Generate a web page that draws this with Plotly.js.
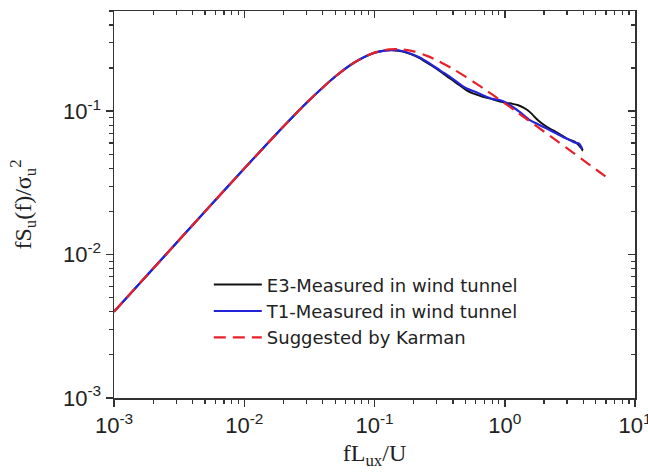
<!DOCTYPE html>
<html>
<head>
<meta charset="utf-8">
<script src="https://cdn.plot.ly/plotly-3.0.1.min.js"></script>
<style>html,body{margin:0;padding:0;background:#fff;}#chart{width:648px;height:474px;}</style>
</head>
<body>
<div id="chart"></div>
<script>
// Series (x = fLux/U, y = fSu(f)/σu²)
var e3X = [0.001, 0.002, 0.005, 0.01, 0.02, 0.03, 0.05, 0.07, 0.1, 0.12, 0.14, 0.165, 0.19, 0.22, 0.27, 0.32, 0.38, 0.45, 0.51, 0.6, 0.68, 0.8, 0.92, 1.04, 1.15, 1.27, 1.38, 1.5, 1.62, 1.75, 1.9, 2.1, 2.5, 3.0, 3.46, 3.7, 3.85, 3.95, 3.9];
var e3Y = [0.0040, 0.0080, 0.0200, 0.0398, 0.0782, 0.114, 0.1746, 0.2185, 0.2555, 0.265, 0.2665, 0.261, 0.250, 0.236, 0.210, 0.1895, 0.169, 0.152, 0.140, 0.131, 0.126, 0.1215, 0.117, 0.1143, 0.1125, 0.110, 0.1065, 0.1016, 0.0955, 0.0885, 0.083, 0.0778, 0.0712, 0.0645, 0.0611, 0.058, 0.0555, 0.054, 0.053];

var t1X = [0.001, 0.002, 0.005, 0.01, 0.02, 0.03, 0.05, 0.07, 0.1, 0.12, 0.14, 0.165, 0.19, 0.22, 0.27, 0.32, 0.38, 0.45, 0.51, 0.6, 0.68, 0.8, 0.92, 1.0, 1.1, 1.3, 1.56, 1.8, 2.1, 2.45, 2.8, 3.1, 3.35, 3.55, 3.7, 3.82, 3.9, 3.85];
var t1Y = [0.0040, 0.0080, 0.0200, 0.0398, 0.0782, 0.114, 0.1746, 0.2185, 0.2555, 0.265, 0.2665, 0.262, 0.252, 0.238, 0.213, 0.192, 0.1735, 0.155, 0.1438, 0.136, 0.1293, 0.122, 0.1193, 0.116, 0.110, 0.099, 0.0866, 0.0812, 0.0757, 0.0705, 0.0662, 0.0635, 0.0611, 0.060, 0.0595, 0.0575, 0.0555, 0.0545];

var karmanX = [0.001, 0.002, 0.005, 0.01, 0.02, 0.03, 0.05, 0.07, 0.1, 0.13, 0.16, 0.2, 0.25, 0.3, 0.4, 0.5, 0.6, 0.7, 0.8, 1.0, 1.2, 1.5, 2.0, 2.5, 3.0, 4.0, 5.0, 6.2];
var karmanY = [0.0040, 0.0080, 0.0200, 0.0398, 0.0782, 0.114, 0.1746, 0.2185, 0.2561, 0.2699, 0.2704, 0.2612, 0.2443, 0.2271, 0.1973, 0.1742, 0.1564, 0.1424, 0.1309, 0.1136, 0.1009, 0.0872, 0.0722, 0.0623, 0.0552, 0.0456, 0.0393, 0.0341];

var seriesNames = ["E3-Measured in wind tunnel", "T1-Measured in wind tunnel", "Suggested by Karman"];

var xTickVals = [0.001, 0.01, 0.1, 1, 10];
var xTickText = ["10<sup>-3</sup>", "10<sup>-2</sup>", "10<sup>-1</sup>", "10<sup>0</sup>", "10<sup>1</sup>"];
var yTickVals = [0.001, 0.01, 0.1];
var yTickText = ["10<sup>-3</sup>", "10<sup>-2</sup>", "10<sup>-1</sup>"];

function minorTicks(decades, maxVal) {
  var out = [];
  decades.forEach(function (d) {
    for (var m = 2; m <= 9; m++) {
      var v = m * Math.pow(10, d);
      if (v <= maxVal * 1.0001) out.push(v);
    }
  });
  return out;
}
var xMinor = minorTicks([-3, -2, -1, 0], 10);
var yMinor = minorTicks([-3, -2, -1], 0.5);

var xRange = [-3, 1];
var yRange = [-3, Math.log10(0.5)];

var axisColor = "#333";
var tickFont = {family: "Liberation Sans, Arial, sans-serif", size: 22, color: "#222"};
var titleFont = {family: "Liberation Serif, Times New Roman, serif", size: 24, color: "#222"};

var traces = [
  {x: e3X, y: e3Y, name: seriesNames[0], mode: "lines", type: "scatter",
   line: {color: "#111111", width: 2, shape: "spline", smoothing: 0.8}},
  {x: t1X, y: t1Y, name: seriesNames[1], mode: "lines", type: "scatter",
   line: {color: "#2323d8", width: 2.2, shape: "spline", smoothing: 0.8}},
  {x: karmanX, y: karmanY, name: seriesNames[2], mode: "lines", type: "scatter",
   line: {color: "#e8202a", width: 2.2, dash: "12px,7px", shape: "spline", smoothing: 0.8}},
  // empty helper trace so the mirrored top/right frame axes get drawn
  {x: [], y: [], xaxis: "x2", yaxis: "y2", mode: "lines", type: "scatter",
   showlegend: false, hoverinfo: "skip"}
];

var baseAxis = {
  type: "log", showgrid: false, zeroline: false, showline: true,
  linecolor: axisColor, linewidth: 1.5, tickcolor: axisColor, tickwidth: 1.5
};

var layout = {
  width: 648, height: 474,
  margin: {l: 114, r: 13, t: 11, b: 76, pad: 0},
  paper_bgcolor: "#fff", plot_bgcolor: "#fff",
  showlegend: true,
  legend: {x: 0.182, y: 0.34, xanchor: "left", yanchor: "top",
           bgcolor: "rgba(0,0,0,0)", borderwidth: 0,
           font: {family: "DejaVu Sans, Liberation Sans, Arial, sans-serif", size: 18, color: "#222"},
           itemwidth: 48, tracegroupgap: 0},
  xaxis: Object.assign({}, baseAxis, {
    range: xRange, ticks: "outside", ticklen: 7, ticklabeloverflow: "allow",
    tickmode: "array", tickvals: xTickVals, ticktext: xTickText, tickfont: tickFont,
    minor: {tickmode: "array", tickvals: xMinor, ticks: "outside", ticklen: 4, tickwidth: 1.2, tickcolor: axisColor, showgrid: false},
    title: {text: "fL<sub>ux</sub>/U", font: titleFont, standoff: 7}
  }),
  yaxis: Object.assign({}, baseAxis, {
    range: yRange, ticks: "outside", ticklen: 7,
    tickmode: "array", tickvals: yTickVals, ticktext: yTickText, tickfont: tickFont,
    minor: {tickmode: "array", tickvals: yMinor, ticks: "outside", ticklen: 4, tickwidth: 1.2, tickcolor: axisColor, showgrid: false},
    title: {text: "fS<sub>u</sub>(f)/σ<sub>u</sub><sup>2</sup>", font: titleFont, standoff: 24}
  }),
  xaxis2: Object.assign({}, baseAxis, {
    overlaying: "x", side: "top", anchor: "y", range: xRange,
    ticks: "inside", ticklen: 7, tickmode: "array", tickvals: xTickVals, showticklabels: false,
    minor: {tickmode: "array", tickvals: xMinor, ticks: "inside", ticklen: 4, tickwidth: 1.2, tickcolor: axisColor, showgrid: false}
  }),
  yaxis2: Object.assign({}, baseAxis, {
    overlaying: "y", side: "right", anchor: "x", range: yRange,
    ticks: "inside", ticklen: 7, tickmode: "array", tickvals: yTickVals, showticklabels: false,
    minor: {tickmode: "array", tickvals: yMinor, ticks: "inside", ticklen: 4, tickwidth: 1.2, tickcolor: axisColor, showgrid: false}
  })
};

Plotly.newPlot("chart", traces, layout, {staticPlot: true, displayModeBar: false});
</script>
</body>
</html>
